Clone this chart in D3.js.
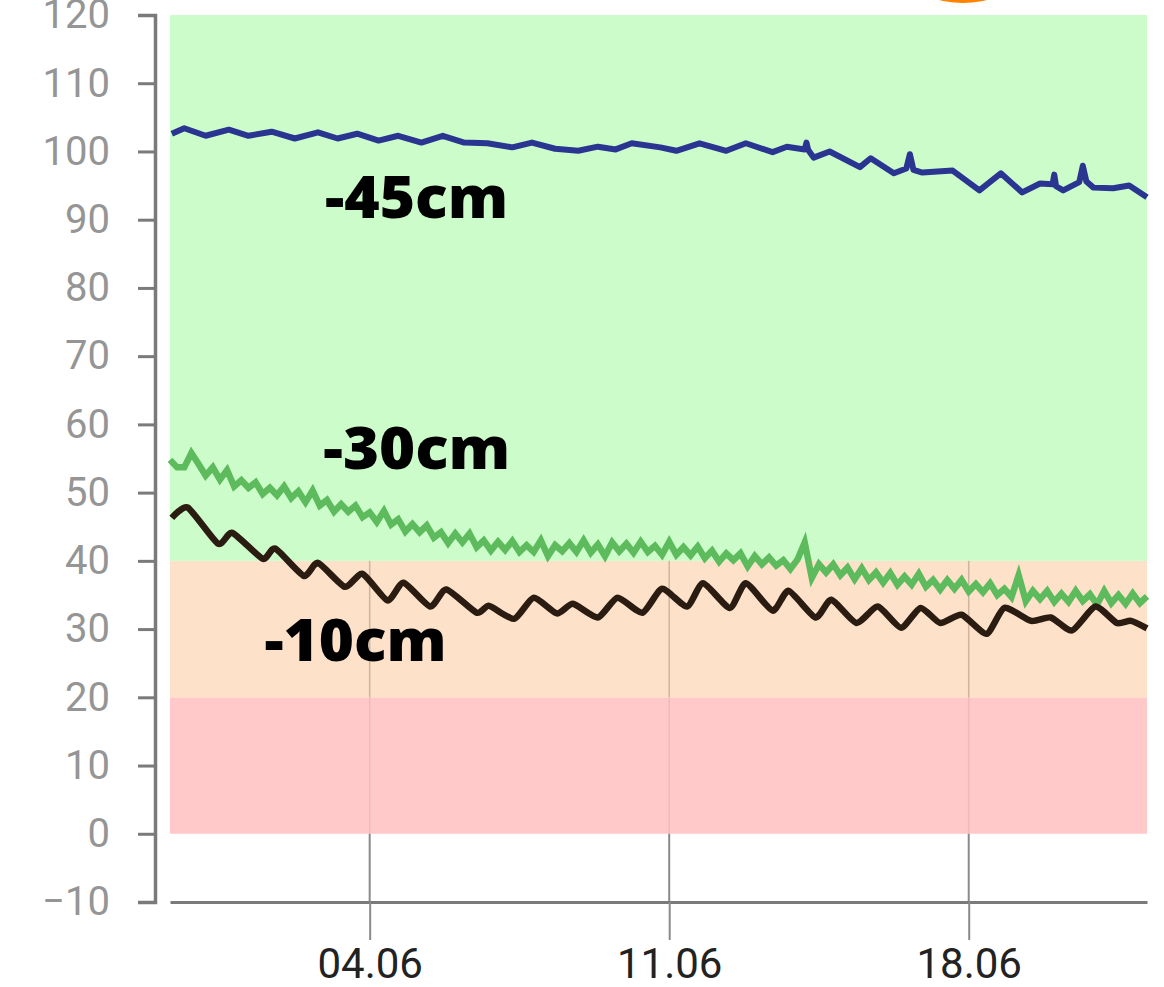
<!DOCTYPE html>
<html>
<head>
<meta charset="utf-8">
<script src="https://cdnjs.cloudflare.com/ajax/libs/d3/7.8.5/d3.min.js"></script>
<style>
  body { margin: 0; background: #fff; }
  svg { display: block; }
</style>
</head>
<body>
<svg id="chart" width="1164" height="987"></svg>
<script>
// soil moisture readings, hours counted from the first sample (30.05 08:00)
const startDate = new Date(2023, 4, 30, 8);
const endHour = 548;

const yTicks = [-10, 0, 10, 20, 30, 40, 50, 60, 70, 80, 90, 100, 110, 120];
const xTickDates = ["2023-06-04", "2023-06-11", "2023-06-18"];

// zones: red (dry), orange, green
const zoneLower = [0, 20, 40];
const zoneUpper = [20, 40, 120];

// -45cm probe
const blueHours = [1, 8, 20, 33, 44, 57, 70, 83, 94, 105, 117, 128, 141, 153, 165, 178, 192, 203, 216, 229,
  240, 250, 259, 275, 284, 297, 312, 323, 338, 346, 356, 357, 358, 361, 370, 387, 393, 406, 413, 415,
  417, 422, 439, 454, 466, 478, 488, 495, 496, 497, 501, 510, 512, 514, 518, 529, 538, 548];
const blueValues = [102.6, 103.4, 102.3, 103.2, 102.3, 102.9, 101.9, 102.8, 101.9, 102.6, 101.6, 102.3, 101.3, 102.3, 101.3, 101.2, 100.6, 101.3, 100.4, 100.1,
  100.7, 100.3, 101.2, 100.6, 100.1, 101.2, 100.1, 101.2, 99.9, 100.7, 100.3, 101.3, 100.2, 99.1, 100.0, 97.7, 99.0, 96.8, 97.5, 99.6,
  97.3, 96.9, 97.2, 94.3, 96.8, 94.0, 95.3, 95.2, 96.6, 94.9, 94.3, 95.5, 97.9, 95.6, 94.7, 94.6, 95.0, 93.3];

// -30cm probe, one sample every 4 hours
const greenStepHours = 4;
const greenValues = [54.8, 53.7, 53.7, 55.8, 54.2, 52.5, 53.7, 51.9, 53.3, 50.9,
  51.8, 50.7, 51.5, 49.8, 50.7, 49.6, 50.9, 49.2, 50.2, 48.6,
  50.3, 48.1, 48.9, 47.2, 48.3, 47.2, 48.1, 46.4, 47.1, 45.7,
  47.3, 45.3, 46.1, 44.3, 45.4, 44.2, 45.2, 43.4, 44.2, 42.6,
  44.0, 42.7, 44.0, 42.0, 43.0, 41.5, 42.8, 41.6, 42.9, 41.3,
  42.3, 41.3, 43.0, 40.7, 42.3, 41.4, 42.6, 41.3, 43.0, 41.2,
  42.4, 40.7, 42.7, 41.4, 42.5, 41.2, 42.8, 41.3, 42.2, 40.9,
  42.8, 40.9, 42.0, 40.8, 42.1, 40.4, 41.5, 39.9, 41.1, 40.1,
  41.1, 39.2, 40.7, 39.5, 40.5, 39.3, 40.1, 38.8, 40.2, 42.7,
  37.5, 39.5, 38.3, 39.5, 37.9, 39.0, 37.3, 38.9, 37.2, 38.3,
  36.8, 38.2, 36.5, 37.7, 36.5, 38.1, 36.2, 37.2, 35.8, 37.2,
  35.9, 37.2, 35.5, 36.6, 35.4, 36.7, 35.0, 35.9, 34.7, 37.9,
  34.1, 35.6, 34.4, 35.6, 34.0, 35.2, 34.0, 35.6, 34.1, 35.1,
  33.6, 35.6, 33.8, 35.0, 33.7, 35.2, 33.8, 34.8];

// -10cm probe, daily peaks and troughs
const blackHours = [1, 10, 27, 35, 52, 59, 75, 83, 98, 108, 122, 131, 146, 155, 172, 179, 193, 204, 217, 226,
  240, 251, 265, 276, 290, 299, 314, 323, 338, 347, 362, 371, 385, 397, 410, 421, 432, 444, 458, 468,
  483, 494, 506, 519, 531, 539, 548];
const blackValues = [46.3, 47.8, 42.5, 44.1, 40.3, 41.8, 37.8, 39.7, 36.2, 38.1, 34.2, 36.8, 33.3, 35.8, 32.4, 33.4, 31.5, 34.6, 32.3, 33.7,
  31.7, 34.6, 32.4, 35.9, 33.3, 36.7, 33.1, 36.7, 32.7, 35.6, 31.7, 34.3, 30.9, 33.3, 30.2, 33.1, 30.9, 32.1, 29.3, 33.1,
  31.2, 31.7, 29.8, 33.3, 30.9, 31.2, 30.1];

const labelTexts = ["-45cm", "-30cm", "-10cm"];
const labelHours = [87, 86, 53];
const labelValues = [90.3, 53.5, 25.3];

const hourDate = (h) => new Date(startDate.getTime() + h * 3600 * 1000);

const svg = d3.select("#chart");

let x = d3.scaleTime().domain([startDate, hourDate(endHour)]).range([170, 1147]);
let y = d3.scaleLinear().domain([-10, 120]).range([902, 15]);

// orange marker peeking in at the top
svg.append("circle")
  .attr("cx", 963).attr("cy", -91).attr("r", 94)
  .attr("fill", "#ff8200");

// background zones
const zoneColors = ["#ffc9c9", "#fde1c9", "#ccfcc9"];
svg.selectAll(".zone")
  .data(zoneLower)
  .join("rect")
  .attr("class", "zone")
  .attr("x", x.range()[0])
  .attr("width", x.range()[1] - x.range()[0])
  .attr("y", (d, i) => y(zoneUpper[i]))
  .attr("height", (d, i) => y(d) - y(zoneUpper[i]))
  .attr("fill", (d, i) => zoneColors[i]);

// vertical grid lines at the date ticks
const tickDates = xTickDates.map(s => d3.timeParse("%Y-%m-%d")(s));
const grid = svg.append("g");
tickDates.forEach(d => {
  grid.append("line")
    .attr("x1", x(d)).attr("x2", x(d))
    .attr("y1", y(40)).attr("y2", y(20))
    .attr("stroke", "#a89080").attr("stroke-opacity", 0.55).attr("stroke-width", 1.5);
  grid.append("line")
    .attr("x1", x(d)).attr("x2", x(d))
    .attr("y1", y(20)).attr("y2", y(0))
    .attr("stroke", "#d0a0a0").attr("stroke-opacity", 0.35).attr("stroke-width", 1.5);
  grid.append("line")
    .attr("x1", x(d)).attr("x2", x(d))
    .attr("y1", y(0)).attr("y2", y(-10))
    .attr("stroke", "#8a8a8a").attr("stroke-width", 2);
});

// series
let lineFrom = (hours, values, curve) => d3.line()
  .x((d, i) => x(hourDate(hours[i])))
  .y(d => y(d))
  .curve(curve)(values);

svg.append("path")
  .attr("d", d3.line()
    .x((d, i) => x(hourDate(i * greenStepHours)))
    .y(d => y(d))(greenValues))
  .attr("fill", "none")
  .attr("stroke", "#5dbb5d")
  .attr("stroke-width", 6.5)
  .attr("stroke-linejoin", "miter")
  .attr("stroke-miterlimit", 6);

svg.append("path")
  .attr("d", lineFrom(blackHours, blackValues, d3.curveCardinal.tension(0.4)))
  .attr("fill", "none")
  .attr("stroke", "#2b1c12")
  .attr("stroke-width", 6.5)
  .attr("stroke-linejoin", "round");

svg.append("path")
  .attr("d", lineFrom(blueHours, blueValues, d3.curveLinear))
  .attr("fill", "none")
  .attr("stroke", "#2a3592")
  .attr("stroke-width", 6)
  .attr("stroke-linejoin", "round");

// depth labels
const labelWidths = [183, 187, 182];
svg.selectAll(".depth")
  .data(labelTexts)
  .join("text")
  .attr("class", "depth")
  .attr("x", (d, i) => x(hourDate(labelHours[i])))
  .attr("y", (d, i) => y(labelValues[i]))
  .attr("textLength", (d, i) => labelWidths[i])
  .attr("lengthAdjust", "spacingAndGlyphs")
  .style("font-family", "'Open Sans', sans-serif")
  .style("font-weight", 800)
  .style("font-size", "58px")
  .style("fill", "#000")
  .text(d => d);

// axes
let yAxis = svg.append("g")
  .attr("transform", "translate(155,0)")
  .call(d3.axisLeft(y).tickValues(yTicks).tickSizeInner(17).tickSizeOuter(17).tickPadding(28));
yAxis.select(".domain").attr("stroke", "#7a7a7a").attr("stroke-width", 3.5);
yAxis.selectAll(".tick line").attr("stroke", "#7a7a7a").attr("stroke-width", 3);
yAxis.selectAll(".tick text")
  .style("font-family", "Roboto, sans-serif")
  .style("font-size", "40px")
  .style("fill", "#959595");

let xAxis = svg.append("g")
  .attr("transform", `translate(0,${y(-10)})`)
  .call(d3.axisBottom(x).tickValues(tickDates).tickFormat(d3.timeFormat("%d.%m"))
    .tickSizeInner(38).tickSizeOuter(0).tickPadding(8));
xAxis.select(".domain").attr("stroke", "#7a7a7a").attr("stroke-width", 3);
xAxis.selectAll(".tick line").attr("stroke", "#8a8a8a").attr("stroke-width", 2);
xAxis.selectAll(".tick text")
  .style("font-family", "Roboto, sans-serif")
  .style("font-size", "42px")
  .style("fill", "#222");
</script>
</body>
</html>
